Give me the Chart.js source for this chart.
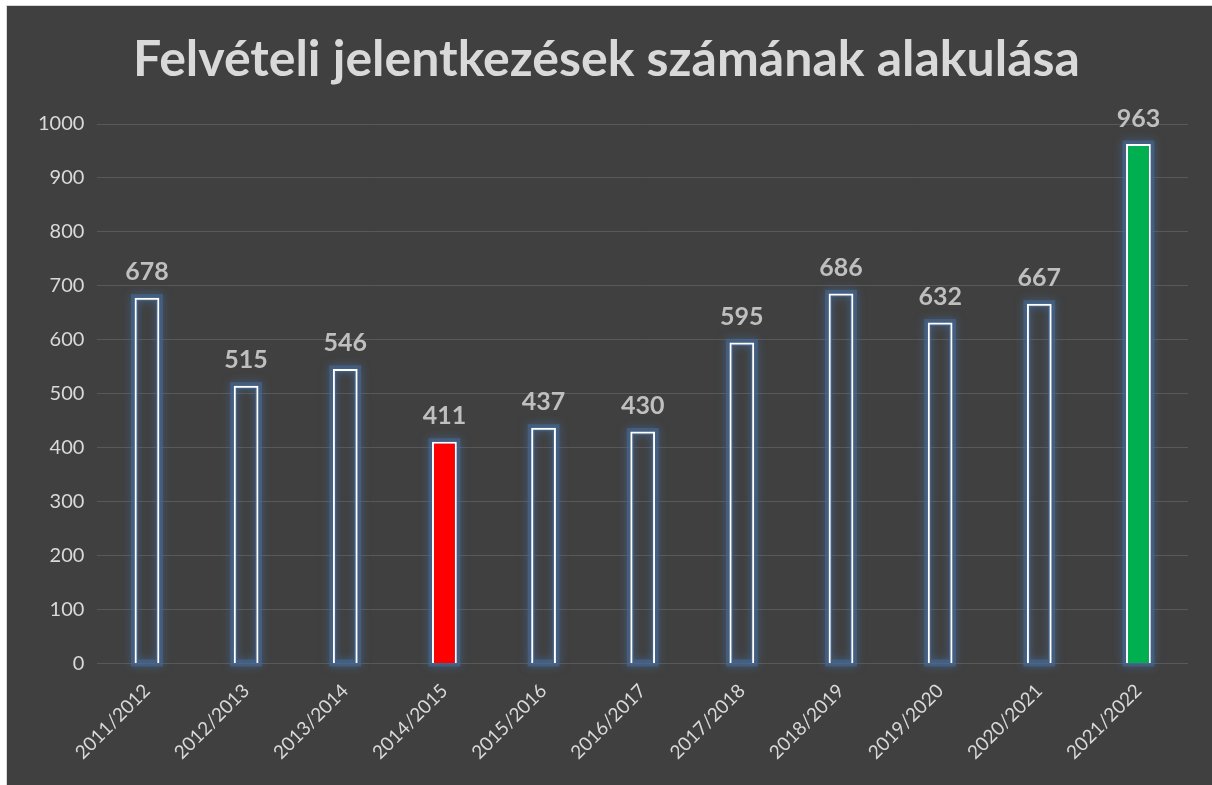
<!DOCTYPE html>
<html>
<head>
<meta charset="utf-8">
<script src="https://cdn.jsdelivr.net/npm/chart.js@4"></script>
<style>
    html, body { margin: 0; padding: 0; background: #ffffff; }
    #frame {
        position: absolute; left: 6px; top: 5px;
        width: 1205px; height: 779px;
        background: #404040;
        border-left: 1px solid #d9d9d9;
        border-top: 1px solid #d9d9d9;
    }
    #chart-wrap { position: absolute; left: 0; top: 0; width: 1205px; height: 779px; }
</style>
</head>
<body>
<div id="frame"><div id="chart-wrap"><canvas id="enrolment-chart"></canvas></div></div>
<script>
const years = ['2011/2012', '2012/2013', '2013/2014', '2014/2015', '2015/2016', '2016/2017',
    '2017/2018', '2018/2019', '2019/2020', '2020/2021', '2021/2022'];
const applications = [678, 515, 546, 411, 437, 430, 595, 686, 632, 667, 963];
const barFills = ['rgba(0,0,0,0)', 'rgba(0,0,0,0)', 'rgba(0,0,0,0)', '#ff0000', 'rgba(0,0,0,0)', 'rgba(0,0,0,0)',
    'rgba(0,0,0,0)', 'rgba(0,0,0,0)', 'rgba(0,0,0,0)', 'rgba(0,0,0,0)', '#00b050'];
const yTicks = [0, 100, 200, 300, 400, 500, 600, 700, 800, 900, 1000];

const fontFamily = 'Lato, "Open Sans", sans-serif';

// soft blue glow around the bars, drawn before the bars themselves
const glowPlugin = {
    id: 'glow',
    beforeDatasetDraw(chart) {
        const ctx = chart.ctx;
        const meta = chart.getDatasetMeta(0);
        ctx.save();
        ctx.shadowColor = 'rgba(68, 114, 170, 0.9)';
        ctx.shadowBlur = 9;
        ctx.strokeStyle = 'rgba(70, 105, 150, 0.6)';
        ctx.lineWidth = 7;
        meta.data.forEach(bar => {
            const w = bar.width;
            ctx.strokeRect(bar.x - w / 2, bar.y, w, bar.base - bar.y);
        });
        ctx.restore();
    }
};

// value labels above bars
const valueLabels = {
    id: 'valueLabels',
    afterDatasetsDraw(chart) {
        const ctx = chart.ctx;
        const meta = chart.getDatasetMeta(0);
        ctx.save();
        ctx.font = 'bold 25px ' + fontFamily;
        ctx.fillStyle = '#bfbfbf';
        ctx.textAlign = 'center';
        ctx.textBaseline = 'bottom';
        meta.data.forEach((bar, i) => {
            ctx.fillText(applications[i], bar.x, bar.y - 13);
        });
        ctx.restore();
    }
};

new Chart(document.getElementById('enrolment-chart').getContext('2d'), {
    type: 'bar',
    data: {
        labels: years,
        datasets: [{
            data: applications,
            backgroundColor: barFills,
            borderColor: '#ffffff',
            borderWidth: 2,
            barPercentage: 0.25,
            categoryPercentage: 1,
        }],
    },
    options: {
        responsive: true,
        maintainAspectRatio: false,
        animation: false,
        layout: { padding: { left: 18, right: 24, top: 10, bottom: 13 } },
        plugins: {
            legend: { display: false },
            tooltip: { enabled: false },
            title: {
                display: true,
                text: 'Felvételi jelentkezések számának alakulása',
                color: '#d9d9d9',
                font: { family: fontFamily, size: 50, weight: 'bold' },
                padding: { top: 14, bottom: 34 },
            },
        },
        scales: {
            x: {
                grid: { display: false },
                border: { display: false },
                ticks: {
                    color: '#d9d9d9',
                    font: { family: fontFamily, size: 19 },
                    maxRotation: 45,
                    minRotation: 45,
                    padding: 8,
                },
            },
            y: {
                min: 0,
                max: 1000,
                afterBuildTicks(axis) {
                    axis.ticks = yTicks.map(v => ({ value: v }));
                },
                grid: { color: '#595959', lineWidth: 1, drawTicks: false },
                border: { display: false },
                ticks: {
                    color: '#d9d9d9',
                    font: { family: fontFamily, size: 20 },
                    padding: 13,
                    callback: v => String(v),
                },
            },
        },
    },
    plugins: [glowPlugin, valueLabels],
});
</script>
</body>
</html>
